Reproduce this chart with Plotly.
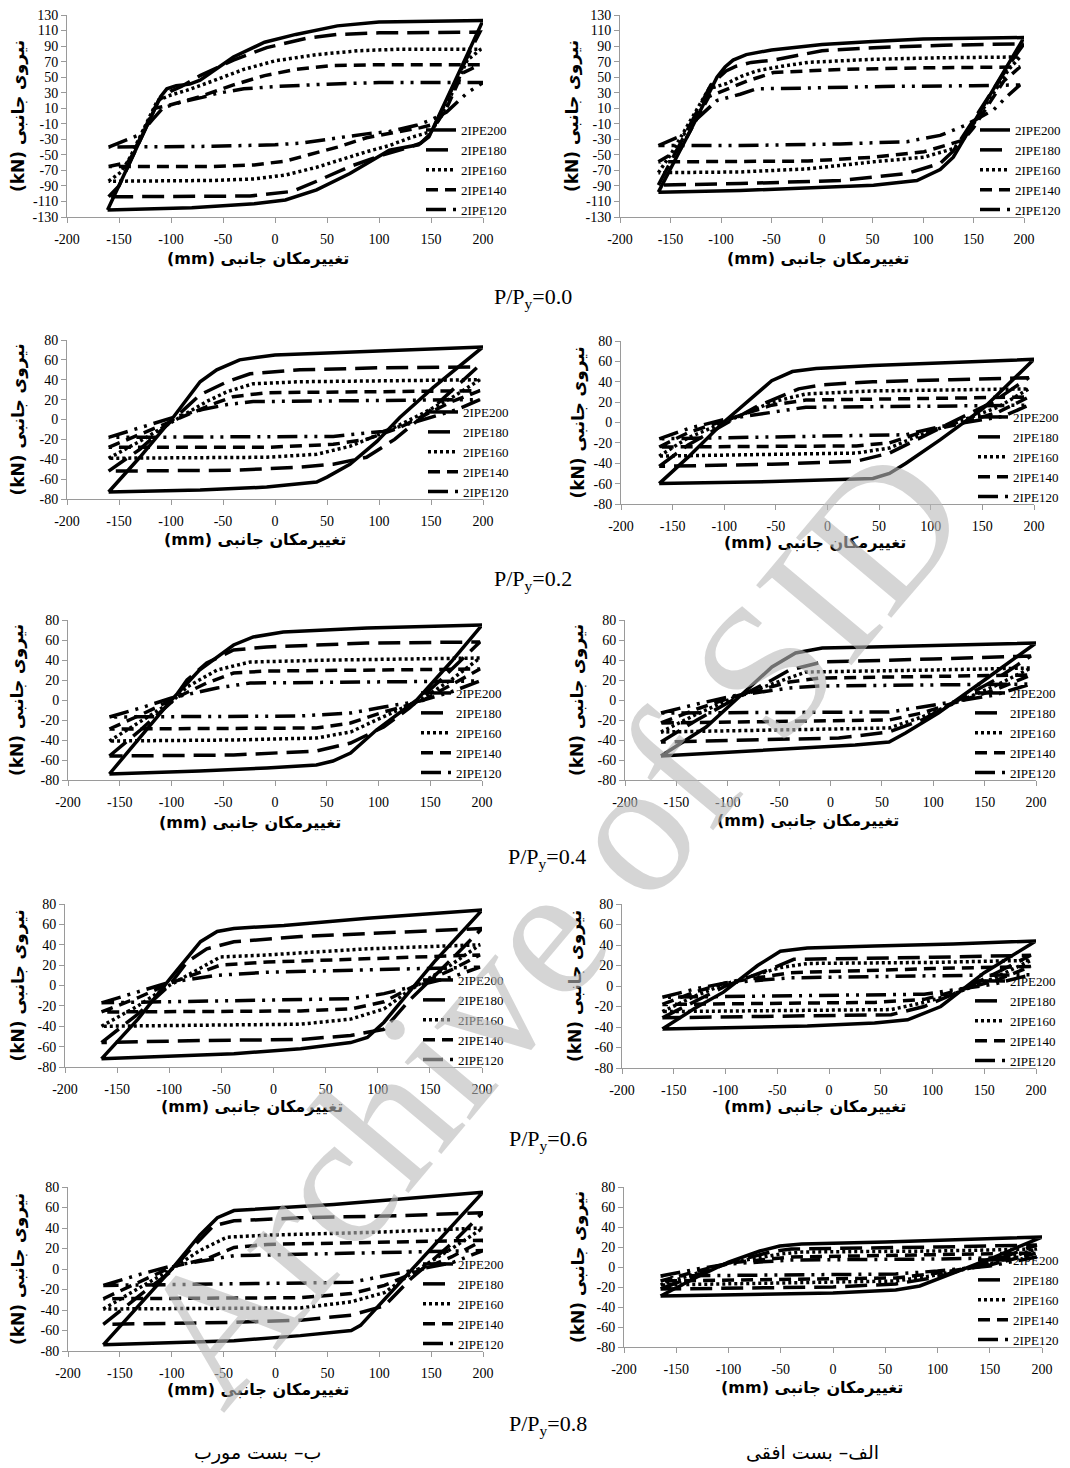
import plotly.graph_objects as go

# ---------------- data ----------------
SERIES = ["2IPE200", "2IPE180", "2IPE160", "2IPE140", "2IPE120"]
RATIO_LABELS = ["0.0", "0.2", "0.4", "0.6", "0.8"]
X_TICKS = [-200, -150, -100, -50, 0, 50, 100, 150, 200]
Y_TICKS_ROW1 = [-130, -110, -90, -70, -50, -30, -10, 10, 30, 50, 70, 90, 110, 130]
Y_TICKS = [-80, -60, -40, -20, 0, 20, 40, 60, 80]

# Loops: (displacement mm, force kN) points, closed hysteresis path
# column "B" = diagonal brace (ب), column "A" = horizontal brace (الف)
B0_200 = [(-161,-121),(-135,-47),(-110,25),(-104,35),(-95,39),(-82,41),(-72,46),(-40,76),(-10,95),(20,105),(60,116),(100,121),(200,123),(170,36),(148,-27),(138,-37),(125,-40),(110,-44),(72,-74),(40,-95),(10,-108),(-20,-113),(-80,-118),(-161,-121)]
B0_180 = [(-160,-104),(-150,-90),(-112,20),(-100,32),(-90,38),(-72,52),(-40,72),(-8,88),(30,100),(60,105),(100,107),(197,108),(190,90),(150,-22),(140,-35),(125,-42),(104,-50),(72,-65),(40,-84),(17,-97),(-24,-103),(-160,-104)]
B0_160 = [(-160,-84),(-148,-72),(-140,-55),(-113,20),(-100,27),(-85,33),(-60,45),(-30,60),(0,71),(40,79),(80,84),(120,86),(198,86),(185,72),(160,0),(150,-20),(130,-28),(110,-38),(88,-46),(60,-58),(40,-66),(10,-76),(-20,-81),(-60,-83),(-160,-84)]
B0_140 = [(-160,-65),(-142,-60),(-138,-52),(-116,10),(-104,13),(-85,20),(-72,25),(-55,33),(-40,40),(-10,52),(20,60),(56,65),(100,66),(197,66),(180,55),(165,10),(155,-10),(140,-15),(120,-20),(88,-28),(60,-40),(40,-47),(10,-58),(-20,-63),(-60,-65),(-160,-65)]
B0_120 = [(-160,-40),(-130,-24),(-118,-5),(-108,10),(-104,12),(-90,18),(-70,24),(-56,29),(-30,35),(0,38),(50,41),(100,43),(200,43),(185,30),(165,5),(150,-5),(136,-12),(110,-20),(88,-23),(50,-30),(24,-35),(0,-37),(-60,-39),(-160,-40)]

A0_200 = [(-162,-98),(-130,-18),(-104,50),(-96,63),(-88,72),(-75,79),(-50,85),(0,92),(50,96),(100,99),(200,101),(165,25),(130,-53),(117,-69),(94,-83),(51,-89),(-15,-93),(-81,-96),(-162,-98)]
A0_180 = [(-162,-89),(-110,40),(-95,58),(-85,64),(-70,69),(-48,72),(0,84),(51,88),(120,91),(200,93),(190,75),(130,-45),(117,-61),(84,-74),(18,-83),(-81,-87),(-162,-89)]
A0_160 = [(-162,-73),(-150,-50),(-112,35),(-94,42),(-80,51),(-65,58),(-40,64),(-14,69),(51,73),(120,75),(196,76),(185,60),(140,-30),(130,-42),(101,-53),(51,-59),(-14,-68),(-81,-72),(-162,-73)]
A0_140 = [(-162,-59),(-145,-45),(-140,-42),(-112,25),(-94,35),(-74,45),(-48,56),(18,60),(100,62),(196,63),(180,45),(150,-15),(140,-31),(101,-46),(51,-53),(-14,-58),(-162,-59)]
A0_120 = [(-162,-38),(-137,-24),(-125,-5),(-104,20),(-81,28),(-65,35),(-14,36),(60,38),(149,39),(196,40),(183,25),(170,8),(142,-12),(117,-25),(84,-33),(18,-36),(-81,-38),(-162,-38)]

B2_200 = [(-160,-73),(-130,-38),(-98,2),(-72,38),(-56,50),(-34,60),(0,65),(24,66),(88,68),(200,73),(152,32),(120,2),(98,-22),(72,-45),(50,-58),(40,-63),(-8,-68),(-72,-71),(-160,-73)]
B2_180 = [(-160,-52),(-130,-30),(-100,-2),(-72,25),(-46,38),(-24,46),(24,50),(100,52),(195,53),(150,10),(115,-20),(88,-38),(56,-45),(24,-48),(-40,-51),(-160,-52)]
B2_160 = [(-160,-39),(-130,-22),(-95,0),(-66,18),(-46,28),(-21,36),(24,38),(100,39),(197,40),(170,22),(140,5),(107,-12),(72,-27),(40,-35),(-8,-38),(-160,-39)]
B2_140 = [(-160,-28),(-130,-15),(-95,0),(-56,17),(-40,23),(-8,27),(100,28),(197,29),(170,18),(140,2),(120,-8),(88,-20),(56,-25),(-8,-28),(-160,-28)]
B2_120 = [(-160,-18),(-130,-8),(-95,3),(-70,10),(-46,15),(-21,18),(100,19),(197,20),(175,10),(150,2),(136,-2),(104,-12),(56,-17),(-160,-18)]

A2_200 = [(-163,-60),(-135,-34),(-102,-1),(-73,25),(-54,41),(-34,50),(-11,53),(44,56),(120,59),(200,62),(151,14),(109,-17),(76,-40),(60,-50),(44,-55),(11,-56),(-54,-58),(-163,-60)]
A2_180 = [(-163,-43),(-135,-22),(-100,-2),(-70,15),(-47,25),(-28,33),(-5,37),(44,40),(120,42),(195,44),(160,20),(120,0),(93,-14),(60,-30),(28,-38),(-54,-41),(-163,-43)]
A2_160 = [(-163,-33),(-135,-15),(-100,0),(-54,20),(-21,28),(44,31),(120,32),(195,33),(165,15),(120,-2),(93,-11),(60,-25),(28,-30),(-163,-33)]
A2_140 = [(-163,-24),(-135,-10),(-100,2),(-54,17),(-21,22),(100,24),(195,25),(165,10),(125,-2),(93,-9),(60,-20),(28,-23),(-163,-24)]
A2_120 = [(-163,-16),(-135,-6),(-100,3),(-37,12),(-21,15),(100,16),(195,17),(170,6),(130,-1),(109,-4),(76,-12),(-163,-16)]

B4_200 = [(-160,-74),(-130,-37),(-100,0),(-73,30),(-40,55),(-21,63),(8,68),(89,72),(200,75),(170,38),(137,0),(98,-30),(73,-53),(56,-61),(40,-65),(-8,-68),(-73,-71),(-160,-74)]
B4_180 = [(-160,-56),(-130,-30),(-100,-2),(-85,20),(-66,37),(-40,50),(-8,53),(89,57),(198,58),(160,20),(130,-8),(105,-27),(73,-43),(40,-51),(-40,-55),(-160,-56)]
B4_160 = [(-160,-41),(-130,-22),(-100,-2),(-85,13),(-56,30),(-24,38),(56,40),(198,42),(170,20),(140,0),(105,-17),(73,-32),(40,-38),(-40,-40),(-160,-41)]
B4_140 = [(-160,-29),(-130,-15),(-100,0),(-66,17),(-40,27),(-8,29),(100,30),(198,31),(170,15),(140,-2),(105,-12),(73,-23),(40,-28),(-160,-29)]
B4_120 = [(-160,-17),(-130,-8),(-100,2),(-56,12),(-24,17),(100,18),(198,19),(170,8),(140,-1),(105,-7),(73,-13),(24,-16),(-160,-17)]

A4_200 = [(-165,-56),(-121,-27),(-89,3),(-57,33),(-34,47),(-8,52),(40,53),(120,55),(200,57),(154,23),(105,-13),(73,-33),(57,-42),(24,-45),(-57,-50),(-165,-56)]
A4_180 = [(-165,-42),(-130,-20),(-95,0),(-57,20),(-40,30),(-8,38),(100,41),(195,44),(160,20),(120,-2),(89,-20),(57,-32),(8,-38),(-165,-42)]
A4_160 = [(-165,-32),(-130,-14),(-95,2),(-50,18),(-24,28),(100,30),(195,32),(160,14),(120,-3),(89,-17),(57,-28),(-165,-32)]
A4_140 = [(-165,-23),(-130,-9),(-95,3),(-40,18),(-10,22),(100,24),(195,25),(160,10),(120,-3),(89,-13),(57,-20),(-165,-23)]
A4_120 = [(-165,-13),(-130,-4),(-95,4),(-40,12),(-10,14),(100,15),(195,16),(160,5),(120,-2),(89,-7),(57,-12),(-165,-13)]

B6_200 = [(-165,-72),(-130,-33),(-99,7),(-70,43),(-54,53),(-38,56),(10,59),(90,66),(200,74),(154,23),(106,-36),(90,-51),(74,-56),(26,-62),(-38,-67),(-165,-72)]
B6_180 = [(-165,-56),(-130,-28),(-100,0),(-83,23),(-64,36),(-38,43),(26,48),(90,51),(200,56),(170,25),(130,-15),(106,-43),(74,-49),(26,-53),(-70,-54),(-165,-56)]
B6_160 = [(-165,-40),(-130,-20),(-100,0),(-77,13),(-51,28),(-6,30),(90,36),(198,40),(170,20),(130,-5),(106,-23),(74,-33),(26,-38),(-165,-40)]
B6_140 = [(-165,-26),(-130,-12),(-100,2),(-70,13),(-51,20),(-6,23),(90,26),(198,30),(170,15),(130,-3),(106,-16),(74,-23),(26,-25),(-165,-26)]
B6_120 = [(-165,-17),(-130,-6),(-100,3),(-54,10),(-6,13),(198,18),(170,8),(130,-2),(106,-8),(74,-13),(-165,-17)]

A6_200 = [(-161,-42),(-130,-22),(-102,-6),(-69,20),(-47,34),(-21,37),(44,39),(120,41),(200,44),(150,13),(108,-20),(76,-33),(44,-36),(-21,-39),(-161,-42)]
A6_180 = [(-161,-31),(-130,-15),(-100,0),(-53,18),(-34,26),(100,28),(195,30),(160,12),(120,-8),(92,-20),(60,-28),(-161,-31)]
A6_160 = [(-161,-25),(-130,-10),(-100,2),(-47,18),(-20,22),(100,23),(195,25),(160,8),(120,-8),(92,-16),(60,-23),(-161,-25)]
A6_140 = [(-161,-18),(-130,-6),(-100,3),(-37,13),(100,17),(195,19),(160,5),(120,-6),(92,-13),(44,-16),(-161,-18)]
A6_120 = [(-161,-11),(-130,-3),(-100,3),(-37,8),(100,10),(195,11),(160,2),(120,-4),(92,-8),(-161,-11)]

B8_200 = [(-166,-74),(-130,-33),(-100,0),(-73,33),(-56,50),(-40,57),(-8,59),(56,63),(200,75),(153,23),(105,-29),(82,-55),(73,-60),(24,-65),(-40,-70),(-166,-74)]
B8_180 = [(-166,-54),(-130,-25),(-100,-2),(-85,16),(-60,42),(-40,47),(24,50),(120,52),(200,55),(170,25),(130,-10),(105,-36),(73,-45),(24,-50),(-40,-52),(-166,-54)]
B8_160 = [(-166,-39),(-130,-18),(-100,0),(-73,18),(-47,31),(-8,33),(100,36),(200,40),(170,20),(130,-5),(105,-23),(73,-32),(24,-38),(-166,-39)]
B8_140 = [(-166,-29),(-130,-12),(-100,2),(-66,10),(-40,21),(-8,24),(100,26),(200,28),(170,12),(130,-5),(105,-16),(73,-24),(24,-28),(-166,-29)]
B8_120 = [(-166,-16),(-130,-5),(-100,3),(-40,13),(100,16),(200,18),(170,6),(130,-2),(105,-7),(73,-13),(-166,-16)]

A8_200 = [(-165,-29),(-130,-10),(-100,5),(-70,16),(-51,21),(-30,23),(50,25),(120,27),(200,30),(150,8),(100,-12),(83,-19),(60,-23),(0,-26),(-165,-29)]
A8_180 = [(-165,-22),(-130,-8),(-100,4),(-60,15),(-40,18),(100,20),(195,22),(150,5),(100,-10),(60,-17),(0,-20),(-165,-22)]
A8_160 = [(-165,-18),(-130,-6),(-100,4),(-50,13),(-30,15),(100,16),(195,18),(150,3),(100,-8),(60,-14),(-165,-18)]
A8_140 = [(-165,-14),(-130,-4),(-100,4),(-40,10),(100,12),(195,14),(150,2),(100,-6),(60,-11),(-165,-14)]
A8_120 = [(-165,-9),(-130,-2),(-100,3),(-40,7),(100,8),(195,10),(150,1),(100,-4),(60,-7),(-165,-9)]

# ---------------- styling / layout ----------------
OFF = 8                      # page body margin of the browser
FW, FH = 1062, 1460          # figure size so that it fits the 1070x1468 window
DASHES = ["solid", "22px,9px", "3px,3px", "12px,7px", "20px,7px,3px,7px,3px,7px"]
SERIF = "Liberation Serif"
FA = "DejaVu Sans"


def px(xp):
    return (xp - OFF) / FW


def py(yp):
    return 1 - (yp - OFF) / FH


# panel: loops, x-domain px, y-domain px (top, bottom), y-range, legend x, ytitle x, xtitle center
PANELS = [
    ([B0_200, B0_180, B0_160, B0_140, B0_120], (67, 483), (15, 217), 130, 421, 18, 258, 258),
    ([A0_200, A0_180, A0_160, A0_140, A0_120], (620, 1024), (15, 217), 130, 975, 572, 818, 258),
    ([B2_200, B2_180, B2_160, B2_140, B2_120], (67, 483), (340, 499), 80, 423, 18, 255, 540),
    ([A2_200, A2_180, A2_160, A2_140, A2_120], (621, 1034), (341, 504), 80, 973, 578, 815, 542),
    ([B4_200, B4_180, B4_160, B4_140, B4_120], (68, 482), (620, 780), 80, 416, 18, 250, 822),
    ([A4_200, A4_180, A4_160, A4_140, A4_120], (625, 1036), (620, 780), 80, 970, 578, 808, 820),
    ([B6_200, B6_180, B6_160, B6_140, B6_120], (65, 482), (904, 1067), 80, 418, 18, 252, 1106),
    ([A6_200, A6_180, A6_160, A6_140, A6_120], (622, 1036), (904, 1068), 80, 970, 575, 815, 1106),
    ([B8_200, B8_180, B8_160, B8_140, B8_120], (68, 483), (1187, 1351), 80, 418, 18, 258, 1389),
    ([A8_200, A8_180, A8_160, A8_140, A8_120], (624, 1042), (1187, 1347), 80, 973, 578, 812, 1387),
]
CAPTIONS = [(533, 298), (533, 580), (547, 858), (548, 1140), (548, 1425)]

fig = go.Figure()
annotations = []
layout = dict(
    width=FW, height=FH, margin=dict(l=0, r=0, t=0, b=0, autoexpand=False),
    paper_bgcolor="white", plot_bgcolor="white", showlegend=True,
)

for i, (loops, xd, yd, yr, legx, ytx, xtx, xty) in enumerate(PANELS):
    n = i + 1
    xa = "x" if n == 1 else f"x{n}"
    ya = "y" if n == 1 else f"y{n}"
    lg = "legend" if n == 1 else f"legend{n}"
    for s, loop in enumerate(loops):
        fig.add_trace(go.Scatter(
            x=[p[0] for p in loop], y=[p[1] for p in loop],
            mode="lines", name=SERIES[s], xaxis=xa, yaxis=ya, legend=lg,
            line=dict(color="black", width=3.5, dash=DASHES[s]),
            hoverinfo="skip",
        ))
    yticks = Y_TICKS_ROW1 if yr == 130 else Y_TICKS
    axis_common = dict(showgrid=False, zeroline=False, showline=True, linecolor="#9a9a9a",
                       linewidth=1, ticks="outside", tickcolor="#9a9a9a", ticklen=5,
                       automargin=False, ticklabeloverflow="allow",
                       tickfont=dict(family=SERIF, size=14, color="black"))
    layout["xaxis" if n == 1 else f"xaxis{n}"] = dict(
        domain=[px(xd[0]), px(xd[1])], anchor=ya, range=[-200, 200],
        tickvals=X_TICKS, ticktext=[str(v) for v in X_TICKS], ticklabelstandoff=4, **axis_common)
    layout["yaxis" if n == 1 else f"yaxis{n}"] = dict(
        domain=[py(yd[1]), py(yd[0])], anchor=xa, range=[-yr, yr],
        tickvals=yticks, ticktext=[str(v) for v in yticks], **axis_common)
    layout[lg] = dict(
        x=px(legx), y=py(yd[1] + 8), xanchor="left", yanchor="bottom",
        bgcolor="rgba(0,0,0,0)", borderwidth=0, itemclick=False,
        font=dict(family=SERIF, size=13, color="black"),
    )
    annotations.append(dict(
        text="<b>(kN) نیروی جانبی</b>", x=px(ytx), y=py((yd[0] + yd[1]) / 2),
        xref="paper", yref="paper", showarrow=False, textangle=-90,
        font=dict(family=FA, size=17, color="black"), xanchor="center", yanchor="middle"))
    annotations.append(dict(
        text="<b>(mm) تغییرمکان جانبی</b>", x=px(xtx), y=py(xty),
        xref="paper", yref="paper", showarrow=False,
        font=dict(family=FA, size=16, color="black"), xanchor="center", yanchor="middle"))

for (cx, cy), r in zip(CAPTIONS, RATIO_LABELS):
    annotations.append(dict(
        text=f"P/P<sub>y</sub>={r}", x=px(cx), y=py(cy), xref="paper", yref="paper",
        showarrow=False, font=dict(family=SERIF, size=22, color="black"),
        xanchor="center", yanchor="middle"))

annotations.append(dict(text="ب– بست مورب", x=px(258), y=py(1452), xref="paper", yref="paper",
                        xanchor="center", yanchor="middle",
                        showarrow=False, font=dict(family=FA, size=19, color="black")))
annotations.append(dict(text="الف– بست افقی", x=px(812), y=py(1452), xref="paper", yref="paper",
                        xanchor="center", yanchor="middle",
                        showarrow=False, font=dict(family=FA, size=19, color="black")))
# watermark
annotations.append(dict(text="Archive of SID", x=px(550), y=py(925), xref="paper", yref="paper",
                        xanchor="center", yanchor="middle",
                        showarrow=False, textangle=-50,
                        font=dict(family=SERIF, size=190, color="rgba(185,185,185,0.6)")))

layout["annotations"] = annotations
fig.update_layout(**layout)
fig.write_html("out.html")
